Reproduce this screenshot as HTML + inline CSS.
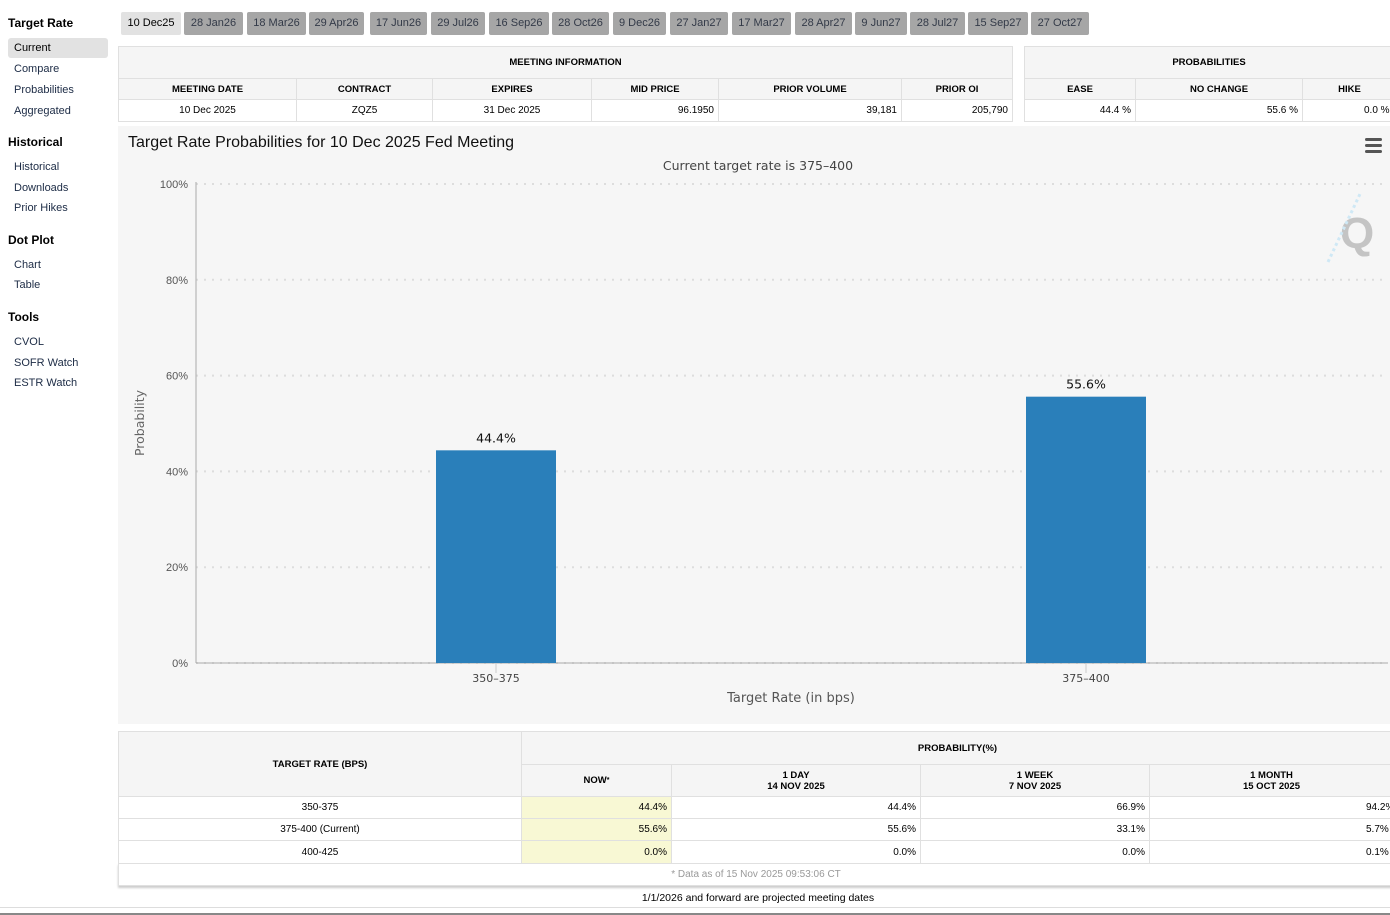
<!DOCTYPE html>
<html><head><meta charset="utf-8"><style>
*{box-sizing:border-box;margin:0;padding:0}
body{width:1390px;height:915px;background:#fff;font-family:"Liberation Sans",Arial,sans-serif;position:relative;overflow:hidden;color:#000}
.a{position:absolute}
.h{font-weight:bold;font-size:12px;color:#000}
.lnk{font-size:11px;color:#1c2b45;left:14px}
.tab{position:absolute;top:12px;height:23px;background:#a6a6a6;color:#333a48;font-size:11px;line-height:23px;text-align:center;border-radius:2px}
.tab.on{background:#e2e2e2;color:#000}
.c{position:absolute;border:1px solid #e0e0e0;font-size:10px;display:flex;align-items:center;justify-content:center;text-align:center}
.hd{background:#f5f5f5;font-weight:bold;font-size:9.5px}
.r{justify-content:flex-end;padding-right:4px}
.y{background:#f8f8d4}
</style></head><body>
<div class="a h" style="left:8px;top:16px">Target Rate</div>
<div class="a" style="left:8px;top:38px;width:100px;height:20px;background:#e2e2e2;border-radius:3px"></div>
<div class="a lnk" style="top:42px;color:#000">Current</div>
<div class="a lnk" style="top:63px">Compare</div>
<div class="a lnk" style="top:84px">Probabilities</div>
<div class="a lnk" style="top:105px">Aggregated</div>
<div class="a h" style="left:8px;top:135px">Historical</div>
<div class="a lnk" style="top:161px">Historical</div>
<div class="a lnk" style="top:182px">Downloads</div>
<div class="a lnk" style="top:202px">Prior Hikes</div>
<div class="a h" style="left:8px;top:233px">Dot Plot</div>
<div class="a lnk" style="top:259px">Chart</div>
<div class="a lnk" style="top:279px">Table</div>
<div class="a h" style="left:8px;top:310px">Tools</div>
<div class="a lnk" style="top:336px">CVOL</div>
<div class="a lnk" style="top:357px">SOFR Watch</div>
<div class="a lnk" style="top:377px">ESTR Watch</div>

<div class="tab on" style="left:121px;width:60px">10 Dec25</div>
<div class="tab" style="left:184px;width:59px">28 Jan26</div>
<div class="tab" style="left:247px;width:59px">18 Mar26</div>
<div class="tab" style="left:309px;width:55px">29 Apr26</div>
<div class="tab" style="left:370px;width:57px">17 Jun26</div>
<div class="tab" style="left:431px;width:54px">29 Jul26</div>
<div class="tab" style="left:489px;width:60px">16 Sep26</div>
<div class="tab" style="left:552px;width:57px">28 Oct26</div>
<div class="tab" style="left:613px;width:53px">9 Dec26</div>
<div class="tab" style="left:670px;width:58px">27 Jan27</div>
<div class="tab" style="left:732px;width:59px">17 Mar27</div>
<div class="tab" style="left:795px;width:57px">28 Apr27</div>
<div class="tab" style="left:855px;width:52px">9 Jun27</div>
<div class="tab" style="left:910px;width:55px">28 Jul27</div>
<div class="tab" style="left:968px;width:60px">15 Sep27</div>
<div class="tab" style="left:1031px;width:58px">27 Oct27</div>

<!-- meeting info table -->
<div class="c hd" style="left:118px;top:46px;width:895px;height:33px">MEETING INFORMATION</div>
<div class="c hd" style="left:118px;top:78px;width:179px;height:22px">MEETING DATE</div>
<div class="c hd" style="left:296px;top:78px;width:137px;height:22px">CONTRACT</div>
<div class="c hd" style="left:432px;top:78px;width:160px;height:22px">EXPIRES</div>
<div class="c hd" style="left:591px;top:78px;width:128px;height:22px">MID PRICE</div>
<div class="c hd" style="left:718px;top:78px;width:184px;height:22px">PRIOR VOLUME</div>
<div class="c hd" style="left:901px;top:78px;width:112px;height:22px">PRIOR OI</div>
<div class="c" style="left:118px;top:99px;width:179px;height:23px">10 Dec 2025</div>
<div class="c" style="left:296px;top:99px;width:137px;height:23px">ZQZ5</div>
<div class="c" style="left:432px;top:99px;width:160px;height:23px">31 Dec 2025</div>
<div class="c r" style="left:591px;top:99px;width:128px;height:23px">96.1950</div>
<div class="c r" style="left:718px;top:99px;width:184px;height:23px">39,181</div>
<div class="c r" style="left:901px;top:99px;width:112px;height:23px">205,790</div>

<div class="c hd" style="left:1024px;top:46px;width:370px;height:33px">PROBABILITIES</div>
<div class="c hd" style="left:1024px;top:78px;width:112px;height:22px">EASE</div>
<div class="c hd" style="left:1135px;top:78px;width:168px;height:22px">NO CHANGE</div>
<div class="c hd" style="left:1302px;top:78px;width:95px;height:22px">HIKE</div>
<div class="c r" style="left:1024px;top:99px;width:112px;height:23px">44.4 %</div>
<div class="c r" style="left:1135px;top:99px;width:168px;height:23px">55.6 %</div>
<div class="c r" style="left:1302px;top:99px;width:95px;height:23px;justify-content:flex-start;padding-left:61px">0.0 %</div>

<!-- chart -->
<svg class="a" style="left:118px;top:126px" width="1272" height="598" id="chart" font-family="Liberation Sans, DejaVu Sans, sans-serif">
<rect width="1272" height="598" fill="#f6f6f6"/>
<text x="10" y="21" font-size="16" fill="#111">Target Rate Probabilities for 10 Dec 2025 Fed Meeting</text>
<text x="640" y="44" fill="#444" text-anchor="middle" font-family="DejaVu Sans, sans-serif" font-size="12.5">Current target rate is 375–400</text>
<g fill="#555"><rect x="1247" y="12" width="17" height="3" rx="1.5"/><rect x="1247" y="18" width="17" height="3" rx="1.5"/><rect x="1247" y="24" width="17" height="3" rx="1.5"/></g>
<g><text x="1222" y="122" font-size="44" font-weight="bold" fill="#c4c4c4">Q</text><path d="M1210 136 L1242 68" stroke="#cfe8f5" stroke-width="3" stroke-dasharray="3 3"/></g>
<text transform="translate(26,297) rotate(-90)" font-size="12.5" fill="#666" text-anchor="middle" font-family="DejaVu Sans, sans-serif">Probability</text>
<text x="673" y="576" font-size="13" fill="#555" text-anchor="middle" font-family="DejaVu Sans, sans-serif">Target Rate (in bps)</text>
<g id="grid"></g><g id="bars"></g>
</svg>

<!-- bottom table -->
<div class="c hd" style="left:118px;top:731px;width:404px;height:66px">TARGET RATE (BPS)</div>
<div class="c hd" style="left:521px;top:731px;width:873px;height:34px">PROBABILITY(%)</div>
<div class="c hd" style="left:521px;top:764px;width:151px;height:33px">NOW<sup style="font-size:7px">*</sup></div>
<div class="c hd" style="left:671px;top:764px;width:250px;height:33px">1 DAY<br>14 NOV 2025</div>
<div class="c hd" style="left:920px;top:764px;width:230px;height:33px">1 WEEK<br>7 NOV 2025</div>
<div class="c hd" style="left:1149px;top:764px;width:245px;height:33px">1 MONTH<br>15 OCT 2025</div>
<div id="rows"></div>
<div class="c" style="left:118px;top:863px;width:1276px;height:23px;color:#999;box-shadow:0 2px 2px #ccc">* Data as of 15 Nov 2025 09:53:06 CT</div>
<div class="a" style="left:0;top:892px;width:1390px;text-align:center;font-size:10.5px;padding-left:126px">1/1/2026 and forward are projected meeting dates</div>
<div class="a" style="left:0;top:907px;width:1390px;height:1px;background:#ddd"></div>
<div class="a" style="left:0;top:913px;width:1390px;height:2px;background:#888"></div>

<script>
const categories = ["350–375","375–400"];
const probabilities = [44.4, 55.6];
const yTicks = [0,20,40,60,80,100];
const tableRates = ["350-375","375-400 (Current)","400-425"];
const nowValues = ["44.4%","55.6%","0.0%"];
const dayValues = ["44.4%","55.6%","0.0%"];
const weekValues = ["66.9%","33.1%","0.0%"];
const monthValues = ["94.2%","5.7%","0.1%"];

const NS="http://www.w3.org/2000/svg";
const X0=78,X1=1270,Y0=537,Y1=58;
const y=v=>Y0-(v/100)*(Y0-Y1);
const bw=590, pad=5;
const xc=i=>X0+pad+bw*(i+0.5);
function mk(tag,attrs,parent){const e=document.createElementNS(NS,tag);for(const k in attrs)e.setAttribute(k,attrs[k]);parent.appendChild(e);return e;}
const grid=document.getElementById('grid'),bars=document.getElementById('bars');
yTicks.forEach(t=>{
  const l=mk('line',{x1:X0,x2:X1,y1:y(t),y2:y(t),stroke:'#ddd','stroke-width':2,'stroke-dasharray':'2 6'},grid);
  
  
  const tx=mk('text',{x:X0-8,y:y(t)+4,'font-size':11,fill:'#555','text-anchor':'end'},grid);
  tx.textContent=t+'%';
  
  
});
const ax=mk('line',{x1:X0,x2:X0,y1:Y1-2,y2:Y0,stroke:'#aaa'},grid);


const xa=mk('line',{x1:X0,x2:X1,y1:Y0,y2:Y0,stroke:'#aaa'},grid);


categories.forEach((c,i)=>{
  const r=mk('rect',{x:xc(i)-60,y:y(probabilities[i]),width:120,height:Y0-y(probabilities[i]),fill:'#2a7fba'},bars);
  
  
  const lb=mk('text',{x:xc(i),y:y(probabilities[i])-8,'font-size':12.5,fill:'#111','text-anchor':'middle','font-family':'DejaVu Sans, sans-serif'},bars);
  lb.textContent=probabilities[i].toFixed(1)+'%';
  
  
  const tk=mk('line',{x1:xc(i),x2:xc(i),y1:Y0,y2:Y0+10,stroke:'#ccc'},bars);
  
  
  const xt=mk('text',{x:xc(i),y:Y0+19,'font-size':11,fill:'#444','text-anchor':'middle','font-family':'DejaVu Sans, sans-serif'},bars);
  xt.textContent=c;
  
  
});
const rows=document.getElementById('rows');
const cols=[[118,404,''],[521,151,' r y'],[671,250,' r'],[920,230,' r'],[1149,245,' r']];
const tops=[796,818,840];
tableRates.forEach((rt,i)=>{
  const vals=[rt,nowValues[i],dayValues[i],weekValues[i],monthValues[i]];
  cols.forEach((c,j)=>{
    const d=document.createElement('div');
    d.className='c'+c[2];
    d.style.cssText=`left:${c[0]}px;top:${tops[i]}px;width:${c[1]}px;height:${i==2?24:23}px`;
    if(j==4){d.style.justifyContent='flex-start';d.style.paddingLeft='216px';}
    d.textContent=vals[j];
    
    
    rows.appendChild(d);
  });
});
</script>
</body></html>
